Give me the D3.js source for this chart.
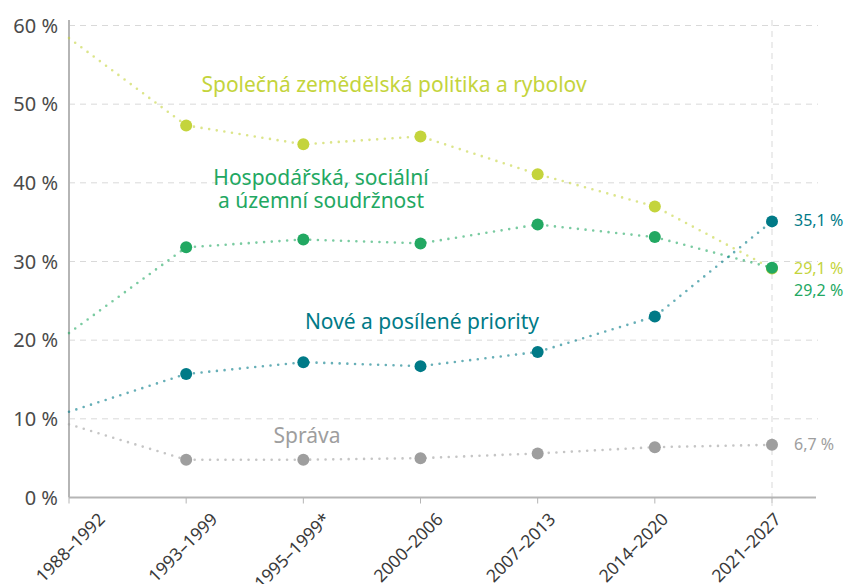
<!DOCTYPE html>
<html>
<head>
    <meta charset="utf-8">
    <title>Podíl okruhů výdajů v rozpočtu EU</title>
    <script src="https://d3js.org/d3.v7.min.js"></script>
    <style>
        body { margin: 0; background: #fff; }
        svg { font-family: "Noto Sans", sans-serif; }
        .grid line { stroke: #d9d9d9; stroke-dasharray: 6 5; }
        .tick-y { font-size: 20px; fill: #4a4a4a; }
        .tick-x { font-size: 17.5px; fill: #3a3a3a; }
    </style>
</head>
<body>
    <div id="chart"></div>
    <script>
        var periods = ["1988–1992", "1993–1999", "1995–1999*", "2000–2006", "2007–2013", "2014–2020", "2021–2027"];
        var yTicks = [0, 10, 20, 30, 40, 50, 60];

        var spolecna    = [58.4, 47.3, 44.9, 45.9, 41.1, 37.0, 29.1];
        var hospodarska = [20.9, 31.8, 32.8, 32.3, 34.7, 33.1, 29.2];
        var nove        = [10.9, 15.7, 17.2, 16.7, 18.5, 23.0, 35.1];
        var sprava      = [9.3, 4.8, 4.8, 5.0, 5.6, 6.4, 6.7];

        var series = [
            { values: spolecna, color: "#c4d43c",
              label: ["Společná zemědělská politika a rybolov"], lx: 394, ly: 92, end: "29,1 %", endDy: 0 },
            { values: hospodarska, color: "#22a862",
              label: ["Hospodářská, sociální", "a územní soudržnost"], lx: 321, ly: 185, end: "29,2 %", endDy: 23 },
            { values: nove, color: "#007a87",
              label: ["Nové a posílené priority"], lx: 422, ly: 329, end: "35,1 %", endDy: 0 },
            { values: sprava, color: "#9e9e9e",
              label: ["Správa"], lx: 307, ly: 443, end: "6,7 %", endDy: 0 }
        ];

        var width = 848, height = 584;
        var svg = d3.select("#chart").append("svg")
            .attr("width", width)
            .attr("height", height);

        var x = d3.scalePoint().domain(periods).range([69, 772]);
        // the tick labels sit on their own evenly spread positions
        var xLabel = d3.scalePoint().domain(periods).range([100, 776]);
        var y = d3.scaleLinear().domain([0, 60]).range([497.5, 25.5]);

        // gridlines
        svg.append("g").attr("class", "grid")
            .selectAll("line").data(yTicks.slice(1)).enter().append("line")
            .attr("x1", 69).attr("x2", 818)
            .attr("y1", function(d) { return y(d); })
            .attr("y2", function(d) { return y(d); });

        // vertical dashed line at last period
        svg.append("line")
            .attr("x1", x(periods[6])).attr("x2", x(periods[6]))
            .attr("y1", 20).attr("y2", 506)
            .attr("stroke", "#d9d9d9").attr("stroke-dasharray", "6 5");

        // axes
        svg.append("line").attr("x1", 69).attr("x2", 69).attr("y1", 20).attr("y2", y(0))
            .attr("stroke", "#b5b5b5").attr("stroke-width", 2);
        svg.append("line").attr("x1", 69).attr("x2", 816).attr("y1", y(0)).attr("y2", y(0))
            .attr("stroke", "#b5b5b5").attr("stroke-width", 2);

        svg.selectAll(".xtick").data(periods).enter().append("line")
            .attr("x1", function(d) { return x(d); }).attr("x2", function(d) { return x(d); })
            .attr("y1", y(0)).attr("y2", y(0) + 6)
            .attr("stroke", "#b5b5b5").attr("stroke-width", 1);

        svg.selectAll(".tick-y").data(yTicks).enter().append("text")
            .attr("class", "tick-y")
            .attr("x", 58)
            .attr("y", function(d) { return y(d) + 7; })
            .attr("text-anchor", "end")
            .text(function(d) { return d + " %"; });

        svg.selectAll(".tick-x").data(periods).enter().append("text")
            .attr("class", "tick-x")
            .attr("text-anchor", "end")
            .attr("transform", function(d) { return "translate(" + (xLabel(d) + 6) + "," + (y(0) + 23) + ") rotate(-45)"; })
            .text(function(d) { return d; });

        var line = d3.line()
            .x(function(d, i) { return x(periods[i]); })
            .y(function(d) { return y(d); });

        series.forEach(function(s) {
            svg.append("path")
                .attr("d", line(s.values))
                .attr("fill", "none")
                .attr("stroke", s.color)
                .attr("stroke-opacity", 0.6)
                .attr("stroke-width", 2.6)
                .attr("stroke-linecap", "round")
                .attr("stroke-dasharray", "0 7.7");
        });

        series.forEach(function(s) {
            svg.selectAll(null).data(s.values.slice(1)).enter().append("circle")
                .attr("cx", function(d, i) { return x(periods[i + 1]); })
                .attr("cy", function(d) { return y(d); })
                .attr("r", 6)
                .attr("fill", s.color);
        });

        series.forEach(function(s) {
            var t = svg.append("text")
                .attr("x", s.lx).attr("y", s.ly)
                .attr("text-anchor", "middle")
                .attr("font-size", 21)
                .attr("fill", s.color);
            s.label.forEach(function(l, i) {
                t.append("tspan").attr("x", s.lx).attr("dy", i ? 23 : 0).text(l);
            });

            svg.append("text")
                .attr("x", 794)
                .attr("y", y(s.values[6]) + 5 + s.endDy)
                .attr("font-size", 16)
                .attr("fill", s.color)
                .text(s.end);
        });
    </script>
</body>
</html>
